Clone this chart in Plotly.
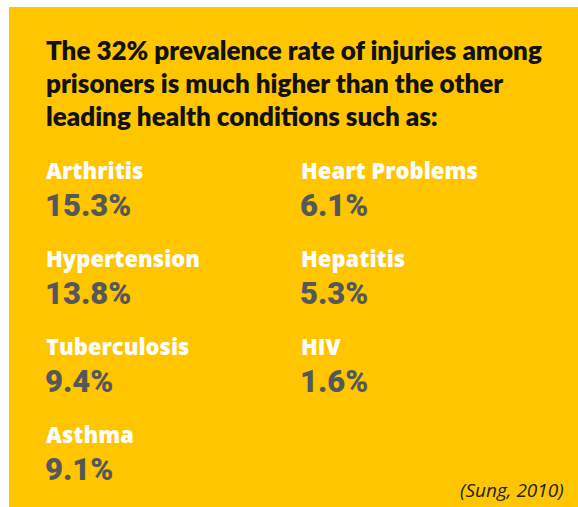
import plotly.graph_objects as go

# data
title_lines = [
    "The 32% prevalence rate of injuries among",
    "prisoners is much higher than the other",
    "leading health conditions such as:",
]
conditions = ["Arthritis", "Hypertension", "Tuberculosis", "Asthma",
              "Heart Problems", "Hepatitis", "HIV"]
rates = [15.3, 13.8, 9.4, 9.1, 6.1, 5.3, 1.6]
source = "(Sung, 2010)"

W, H = 578, 507
YELLOW = "#FFC600"
GREY = "#55585B"

fig = go.Figure()

fig.add_shape(type="rect", x0=9, x1=W, y0=7, y1=H,
              fillcolor=YELLOW, line_width=0, layer="below")

for i, line in enumerate(title_lines):
    fig.add_annotation(x=44, y=50 + i * 33, text=line, showarrow=False,
                       xanchor="left", yanchor="middle",
                       font=dict(family="Lato", size=26, color="#111111", weight=800))

# two columns of four rows
for i, (name, val) in enumerate(zip(conditions, rates)):
    col = 0 if i < 4 else 1
    row = i if i < 4 else i - 4
    x = 44 if col == 0 else 299
    y = 170 + row * 88
    fig.add_annotation(x=x, y=y, text=name, showarrow=False,
                       xanchor="left", yanchor="middle",
                       font=dict(family="Open Sans", size=22, color="white", weight=800))
    fig.add_annotation(x=x - 1, y=y + 35, text=f"{val}%", showarrow=False,
                       xanchor="left", yanchor="middle",
                       font=dict(family="Roboto", size=31, color=GREY, weight=900))

fig.add_annotation(x=566, y=490, text=f"<i>{source}</i>", showarrow=False,
                   xanchor="right", yanchor="middle",
                   font=dict(family="Open Sans", size=19, color="#222222"))

fig.update_xaxes(range=[0, W], visible=False)
fig.update_yaxes(range=[H, 0], visible=False)
fig.update_layout(width=W, height=H, margin=dict(l=0, r=0, t=0, b=0),
                  paper_bgcolor="white", plot_bgcolor="white", showlegend=False)

fig.write_html("out.html", config={"displayModeBar": False},
               post_script="document.body.style.margin='0';")
